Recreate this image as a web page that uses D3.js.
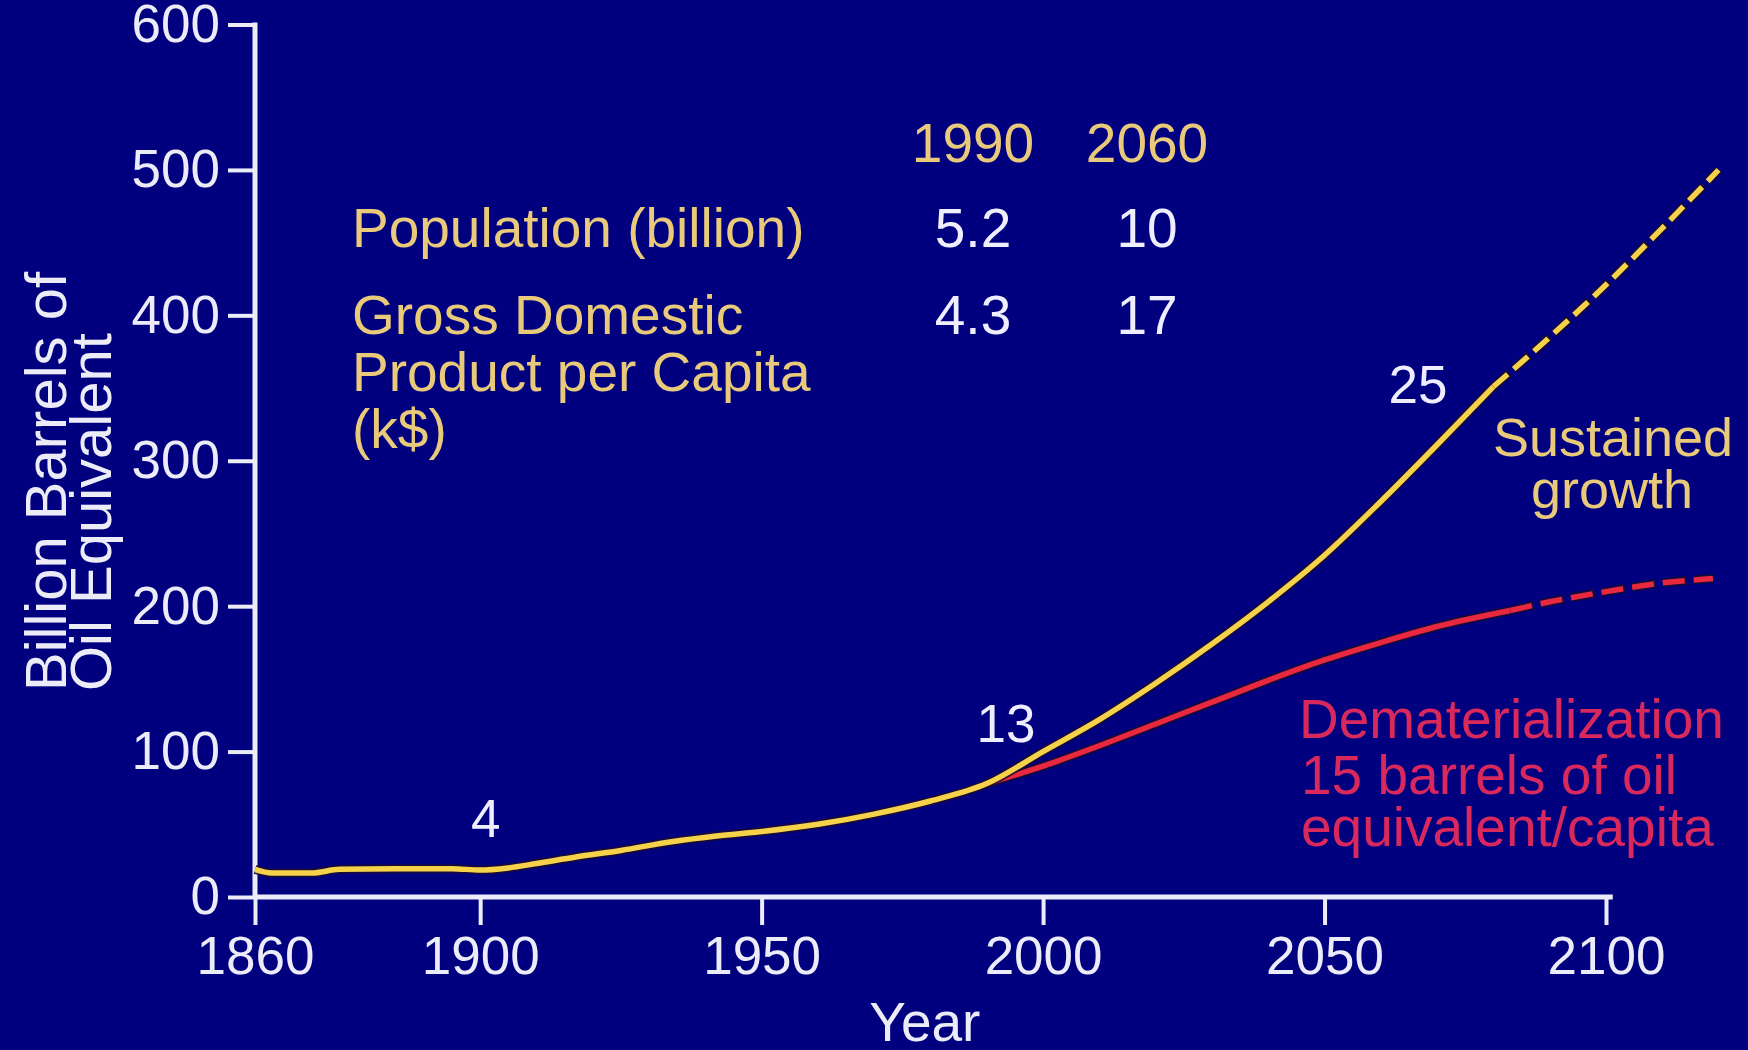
<!DOCTYPE html>
<html>
<head>
<meta charset="utf-8">
<script src="https://cdn.jsdelivr.net/npm/d3@7"></script>
<style>
  html, body { margin: 0; padding: 0; background: #010180; }
  svg { display: block; }
  text { font-family: "Liberation Sans", Arial, Helvetica, sans-serif; }
</style>
</head>
<body>
<svg id="chart" width="1748" height="1050"></svg>
<script>
// ---------- data ----------
const xTicks = [1860, 1900, 1950, 2000, 2050, 2100];
const yTicks = [0, 100, 200, 300, 400, 500, 600];

// historical + sustained growth (solid part)
const sustainedYears  = [1860, 1863, 1870, 1875, 1885, 1895, 1900, 1905, 1910, 1917, 1925, 1934, 1942, 1950, 1960, 1970, 1980, 1990, 2000, 2010, 2020, 2030, 2040, 2050, 2060, 2070, 2080];
const sustainedValues = [19, 16.5, 16.5, 19, 19.5, 19.5, 18.5, 20, 23, 27.5, 32, 38, 42, 45, 50, 57, 66, 78, 100, 122, 147, 174, 203, 235, 272, 311, 351];
// sustained growth projection (dashed part)
const sustainedProjYears  = [2080, 2090, 2100, 2110, 2120];
const sustainedProjValues = [351, 385, 421, 460, 500];

// dematerialization (solid part)
const demYears  = [1990, 2000, 2010, 2020, 2030, 2040, 2050, 2060, 2070, 2083];
const demValues = [78, 90, 104, 119, 134, 149, 163, 175, 186, 197];
// dematerialization projection (dashed part)
const demProjYears  = [2083, 2090, 2100, 2110, 2119];
const demProjValues = [197, 203, 210, 216, 219];

// table
const tableYears = ["1990", "2060"];
const tableRowLabels = [["Population (billion)"], ["Gross Domestic", "Product per Capita", "(k$)"]];
const tableRow1990 = ["5.2", "4.3"];
const tableRow2060 = ["10", "17"];

// curve annotations (barrels per capita) with label anchor (year, value)
const annoLabels = ["4", "13", "25"];
const annoYears  = [1901, 1993.4, 2066.6];
const annoValues = [41, 106.5, 340];

// ---------- drawing ----------
const svg = d3.select("#chart");
const W = 1748, H = 1050;
svg.append("rect").attr("width", W).attr("height", H).attr("fill", "#010180");

const x = d3.scaleLinear().domain([1860, 2100]).range([255, 1606]);
const y = d3.scaleLinear().domain([0, 600]).range([897, 24.5]);

const axisColor = "#ececf8";
const fontSize = 53;

// y axis
const yAxis = d3.axisLeft(y).tickValues(yTicks).tickSize(27).tickSizeOuter(0).tickPadding(8);
const gy = svg.append("g").attr("transform", `translate(${x(1860)},0)`).call(yAxis);
gy.select(".domain").remove();
gy.selectAll(".tick line").attr("stroke", axisColor).attr("stroke-width", 4);
gy.selectAll(".tick text").attr("fill", axisColor).attr("font-size", fontSize)
  .attr("font-family", "Liberation Sans, Arial, sans-serif");
svg.append("line").attr("x1", x(1860)).attr("x2", x(1860))
  .attr("y1", y(600) - 2).attr("y2", y(0))
  .attr("stroke", axisColor).attr("stroke-width", 5);

// x axis
const xAxis = d3.axisBottom(x).tickValues(xTicks).tickFormat(d3.format("d")).tickSize(28).tickSizeOuter(0).tickPadding(11);
const gx = svg.append("g").attr("transform", `translate(0,${y(0)})`).call(xAxis);
gx.select(".domain").remove();
gx.selectAll(".tick line").attr("stroke", axisColor).attr("stroke-width", 4);
gx.selectAll(".tick text").attr("fill", axisColor).attr("font-size", fontSize)
  .attr("font-family", "Liberation Sans, Arial, sans-serif");
svg.append("line").attr("x1", x(1860) - 2).attr("x2", x(2101.2))
  .attr("y1", y(0)).attr("y2", y(0))
  .attr("stroke", axisColor).attr("stroke-width", 5);

// axis titles
svg.append("text").attr("x", x(1979)).attr("y", 1041).attr("text-anchor", "middle")
  .attr("fill", axisColor).attr("font-size", 55).text("Year");
const yt = svg.append("g").attr("transform", "translate(66,691) rotate(-90)");
yt.append("text").attr("x", 0).attr("y", 0).attr("fill", axisColor).attr("font-size", 58).text("Billion Barrels of");
yt.append("text").attr("x", 0).attr("y", 45).attr("fill", axisColor).attr("font-size", 58).text("Oil Equivalent");

// lines
const line = d3.line().x(d => x(d[0])).y(d => y(d[1])).curve(d3.curveMonotoneX);
const zip = (a, b) => a.map((v, i) => [v, b[i]]);

function drawSeries(pts, color, dash) {
  svg.append("path").datum(pts).attr("d", line).attr("fill", "none")
    .attr("stroke", "#1a0a30").attr("stroke-width", 9).attr("stroke-linecap", "butt")
    .attr("stroke-dasharray", dash ? dash.map((v, i) => i % 2 === 0 ? v + 2 : v - 2).join(",") : null)
    .attr("opacity", 0.85);
  svg.append("path").datum(pts).attr("d", line).attr("fill", "none")
    .attr("stroke", color).attr("stroke-width", 5.5).attr("stroke-linecap", "butt")
    .attr("stroke-dasharray", dash ? dash.join(",") : null);
}

const red = "#e8283e";
const yellow = "#f6d24a";
drawSeries(zip(demYears, demValues), red, null);
drawSeries(zip(demProjYears, demProjValues), red, [22, 9]);
drawSeries(zip(sustainedYears, sustainedValues), yellow, null);
drawSeries(zip(sustainedProjYears, sustainedProjValues), yellow, [19, 8]);

// annotations along curve
const numColor = "#eeeeff";
annoLabels.forEach((lab, i) => {
  svg.append("text").attr("x", x(annoYears[i])).attr("y", y(annoValues[i]))
    .attr("text-anchor", "middle").attr("fill", numColor).attr("font-size", fontSize).text(lab);
});

// series labels
const tan = "#e9ca7a";
const sg = svg.append("g").attr("fill", tan).attr("font-size", 54).attr("text-anchor", "middle");
sg.append("text").attr("x", 1613).attr("y", 456).text("Sustained");
sg.append("text").attr("x", 1612).attr("y", 508).text("growth");

const rg = svg.append("g").attr("fill", "#d8285c").attr("font-size", 55);
rg.append("text").attr("x", 1299).attr("y", 738).text("Dematerialization");
rg.append("text").attr("x", 1301).attr("y", 794).text("15 barrels of oil");
rg.append("text").attr("x", 1301).attr("y", 846).text("equivalent/capita");

// table
const colX = [973, 1147];
const tg = svg.append("g").attr("font-size", 55);
tableYears.forEach((t, i) => {
  tg.append("text").attr("x", colX[i]).attr("y", 162).attr("text-anchor", "middle").attr("fill", tan).text(t);
});
const rowY = [247, 334];
tableRowLabels.forEach((lines, r) => {
  lines.forEach((ln, k) => {
    tg.append("text").attr("x", 352).attr("y", rowY[r] + k * 57).attr("fill", tan).text(ln);
  });
  tg.append("text").attr("x", colX[0]).attr("y", rowY[r]).attr("text-anchor", "middle").attr("fill", numColor).text(tableRow1990[r]);
  tg.append("text").attr("x", colX[1]).attr("y", rowY[r]).attr("text-anchor", "middle").attr("fill", numColor).text(tableRow2060[r]);
});
</script>
</body>
</html>
